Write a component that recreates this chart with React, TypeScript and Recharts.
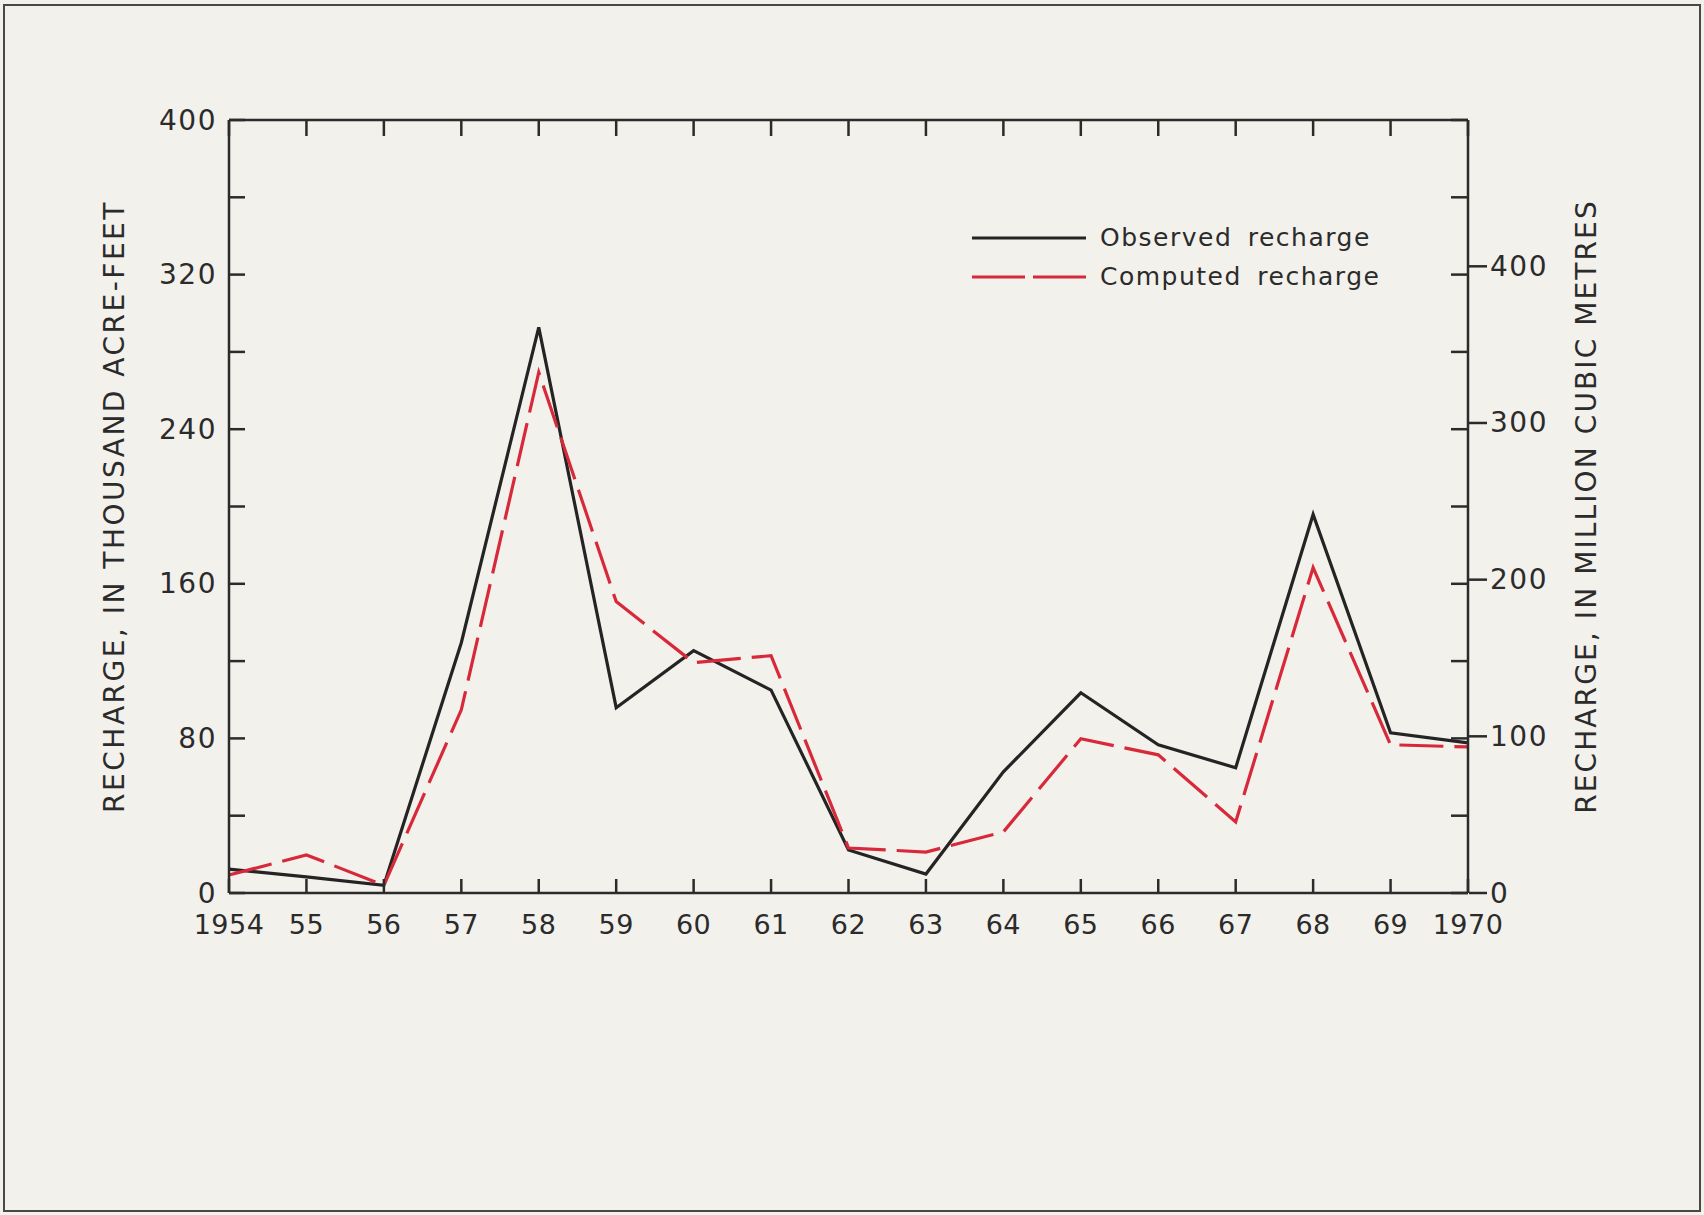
import { LineChart, Line, XAxis, YAxis, Legend } from "recharts";

// Recharge by year, in thousand acre-feet
const years = [1954, 1955, 1956, 1957, 1958, 1959, 1960, 1961, 1962, 1963, 1964, 1965, 1966, 1967, 1968, 1969, 1970];
const yearLabels = ["1954", "55", "56", "57", "58", "59", "60", "61", "62", "63", "64", "65", "66", "67", "68", "69", "1970"];
const observedRecharge = [12.4, 8.3, 4, 129.5, 292.7, 95.9, 125.4, 105, 22.3, 9.8, 62.7, 103.6, 76.7, 64.8, 195.9, 82.9, 77.7];
const computedRecharge = [9.3, 19.7, 4, 94.8, 269.4, 150.8, 119.2, 122.8, 23.3, 21.2, 31.6, 79.8, 71.5, 36.8, 168.4, 76.7, 75.6];

const acreFeetTicks = [0, 40, 80, 120, 160, 200, 240, 280, 320, 360, 400];
const acreFeetLabels = [0, 80, 160, 240, 320, 400];
const cubicMetreTicks = [0, 100, 200, 300, 400];

// 1 thousand acre-feet = 1.23348 million cubic metres
const MCM_PER_KAF = 1.23348;

const series = [
  { key: "observed", name: "Observed recharge", color: "#242424", dash: undefined as string | undefined, legendDash: undefined as string | undefined },
  { key: "computed", name: "Computed recharge", color: "#d8293a", dash: "44 11", legendDash: "53 8" },
];

const data = years.map((year, i) => ({
  year,
  observed: observedRecharge[i],
  computed: computedRecharge[i],
}));

const INK = "#2b2b2b";
const FONT = "'DejaVu Sans', sans-serif";
const AXIS_STROKE = { stroke: INK, strokeWidth: 2.5 };

function LeftTick({ x, y, payload }: any) {
  const v = payload.value;
  return (
    <g>
      <line x1={x} x2={x + 16} y1={y} y2={y} {...AXIS_STROKE} />
      {acreFeetLabels.includes(v) && (
        <text x={x - 12} y={y} textAnchor="end" dominantBaseline="central" fontFamily={FONT} fontSize={28} letterSpacing={1.5} fill={INK}>
          {v}
        </text>
      )}
    </g>
  );
}

function RightInnerTick({ x, y }: any) {
  return <line x1={x} x2={x - 17} y1={y} y2={y} {...AXIS_STROKE} />;
}

function RightTick({ x, y, payload }: any) {
  return (
    <g>
      <line x1={x} x2={x + 18} y1={y} y2={y} {...AXIS_STROKE} />
      <text x={x + 21} y={y} textAnchor="start" dominantBaseline="central" fontFamily={FONT} fontSize={28} letterSpacing={1.5} fill={INK}>
        {payload.value}
      </text>
    </g>
  );
}

function BottomTick({ x, y, payload }: any) {
  const i = years.indexOf(payload.value);
  return (
    <g>
      <line x1={x} x2={x} y1={y} y2={y - 14} {...AXIS_STROKE} />
      <text x={x} y={y + 31} textAnchor="middle" dominantBaseline="central" fontFamily={FONT} fontSize={27} letterSpacing={0.5} fill={INK}>
        {yearLabels[i]}
      </text>
    </g>
  );
}

function TopTick({ x, y }: any) {
  return <line x1={x} x2={x} y1={y} y2={y + 16} {...AXIS_STROKE} />;
}

function LegendBox() {
  return (
    <div style={{ fontFamily: FONT, fontSize: 25, color: INK, letterSpacing: 1.5, wordSpacing: 6 }}>
      {series.map((s) => (
        <div key={s.key} style={{ display: "flex", alignItems: "center", height: 39 }}>
          <svg width={114} height={10}>
            <line x1={0} x2={114} y1={5} y2={5} stroke={s.color} strokeWidth={3} strokeDasharray={s.legendDash} />
          </svg>
          <span style={{ marginLeft: 14 }}>{s.name}</span>
        </div>
      ))}
    </div>
  );
}

const titleStyle = { fontFamily: FONT, fontSize: 28, fill: INK, letterSpacing: 2.5 };

export default function App() {
  return (
    <div
      style={{
        position: "absolute",
        left: 0,
        top: 0,
        width: 1704,
        height: 1215,
        background: "#f3f1ec",
        overflow: "hidden",
      }}
    >
      <div
        style={{
          position: "absolute",
          left: 3,
          top: 4,
          right: 3,
          bottom: 3,
          border: "2px solid #4a4845",
          pointerEvents: "none",
        }}
      />
      <LineChart width={1704} height={1215} data={data} margin={{ top: 119, right: 0, bottom: 262, left: 0 }}>
        <XAxis
          dataKey="year"
          type="number"
          domain={[1954, 1970]}
          ticks={years}
          interval={0}
          height={60}
          tickSize={0}
          tickMargin={0}
          tickLine={false}
          axisLine={AXIS_STROKE}
          tick={<BottomTick />}
        />
        <XAxis
          xAxisId="top"
          dataKey="year"
          orientation="top"
          type="number"
          domain={[1954, 1970]}
          ticks={years}
          interval={0}
          height={1}
          tickSize={0}
          tickMargin={0}
          tickLine={false}
          axisLine={AXIS_STROKE}
          tick={<TopTick />}
        />
        <YAxis
          type="number"
          domain={[0, 400]}
          ticks={acreFeetTicks}
          interval={0}
          width={229}
          tickSize={0}
          tickMargin={0}
          tickLine={false}
          axisLine={AXIS_STROKE}
          tick={<LeftTick />}
          label={{ value: "RECHARGE, IN THOUSAND ACRE-FEET", angle: -90, position: "center", ...titleStyle }}
        />
        <YAxis
          yAxisId="kafRight"
          orientation="right"
          type="number"
          domain={[0, 400]}
          ticks={acreFeetTicks}
          interval={0}
          width={1}
          tickSize={0}
          tickMargin={0}
          tickLine={false}
          axisLine={AXIS_STROKE}
          tick={<RightInnerTick />}
        />
        <YAxis
          yAxisId="mcm"
          orientation="right"
          type="number"
          domain={[0, 400 * MCM_PER_KAF]}
          allowDataOverflow
          ticks={cubicMetreTicks}
          interval={0}
          width={235}
          tickSize={0}
          tickMargin={0}
          tickLine={false}
          axisLine={false}
          tick={<RightTick />}
          label={{ value: "RECHARGE, IN MILLION CUBIC METRES", angle: -90, position: "center", ...titleStyle, letterSpacing: 2.1 }}
        />
        <Legend
          layout="horizontal"
          verticalAlign="middle"
          align="center"
          wrapperStyle={{ left: 972, top: 218, width: 440 }}
          content={() => <LegendBox />}
        />
        {/* invisible helpers so the top and right axes get their ticks */}
        <Line xAxisId="top" yAxisId="kafRight" dataKey="observed" stroke="none" dot={false} activeDot={false} legendType="none" isAnimationActive={false} />
        <Line yAxisId="mcm" dataKey="observed" stroke="none" dot={false} activeDot={false} legendType="none" isAnimationActive={false} />
        {series.map((s) => (
          <Line
            key={s.key}
            dataKey={s.key}
            name={s.name}
            type="linear"
            stroke={s.color}
            strokeWidth={3.2}
            strokeDasharray={s.dash}
            strokeLinejoin="miter"
            dot={false}
            activeDot={false}
            isAnimationActive={false}
          />
        ))}
      </LineChart>
    </div>
  );
}
